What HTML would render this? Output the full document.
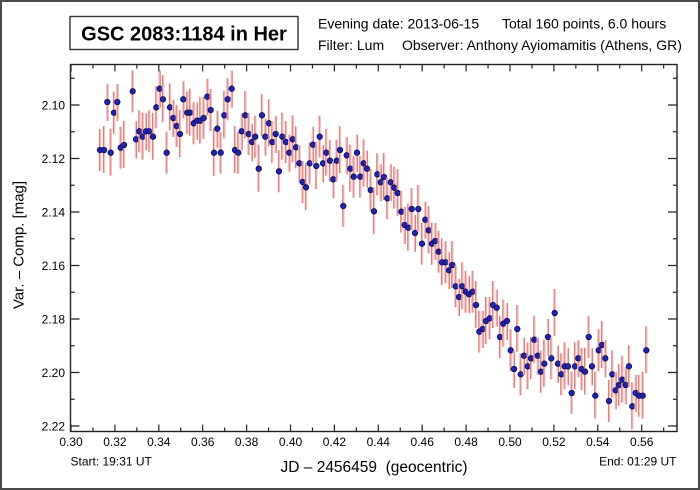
<!DOCTYPE html>
<html><head><meta charset="utf-8"><style>
html,body{margin:0;padding:0;background:#fff;}
svg{display:block;font-family:"Liberation Sans",Arial,sans-serif;}
</style></head><body>
<svg width="700" height="490" viewBox="0 0 700 490" xmlns="http://www.w3.org/2000/svg">
<defs>
<g id="a"><line x1="0" y1="-21" x2="0" y2="21" stroke="#f3bebe" stroke-width="2.4"/><line x1="-0.5" y1="-21" x2="-0.5" y2="21" stroke="#d87676" stroke-width="0.9"/><circle r="2.7" fill="#2424a4" stroke="#0a0a6a" stroke-width="0.9"/></g>
<g id="b"><line x1="0" y1="-18" x2="0" y2="19" stroke="#f3bebe" stroke-width="2.4"/><line x1="0.5" y1="-18" x2="0.5" y2="19" stroke="#d87676" stroke-width="0.9"/><circle r="2.7" fill="#2424a4" stroke="#0a0a6a" stroke-width="0.9"/></g>
<g id="c"><line x1="0" y1="-24" x2="0" y2="23" stroke="#f3bebe" stroke-width="2.4"/><line x1="-0.5" y1="-24" x2="-0.5" y2="23" stroke="#d87676" stroke-width="0.9"/><circle r="2.7" fill="#2424a4" stroke="#0a0a6a" stroke-width="0.9"/></g>
</defs>
<rect x="1" y="1" width="698" height="488" fill="#fff" stroke="#4a4a4a" stroke-width="2"/>

<!-- header -->
<rect x="70" y="16.5" width="228" height="33" fill="#fff" stroke="#333" stroke-width="1.4"/>
<text x="184" y="40.5" font-size="20" font-weight="bold" text-anchor="middle" fill="#000">GSC 2083:1184 in Her</text>
<text x="318" y="28.5" font-size="14" fill="#000">Evening date: 2013-06-15</text>
<text x="502" y="28.5" font-size="14" fill="#000">Total 160 points, 6.0 hours</text>
<text x="318" y="50" font-size="14" fill="#000">Filter: Lum</text>
<text x="402" y="50" font-size="14" fill="#000">Observer: Anthony Ayiomamitis (Athens, GR)</text>

<!-- data -->
<g>
<use href="#a" x="100" y="150"/><use href="#c" x="104" y="150"/><use href="#b" x="107.3" y="102"/><use href="#c" x="110.7" y="152.7"/><use href="#a" x="114" y="112.7"/><use href="#b" x="117.3" y="102"/><use href="#a" x="120.7" y="147.7"/><use href="#c" x="124" y="145"/><use href="#a" x="132.7" y="91.3"/><use href="#b" x="136" y="139.3"/><use href="#a" x="139.3" y="131.3"/><use href="#c" x="142.7" y="136.7"/><use href="#b" x="146" y="131.3"/><use href="#a" x="149.3" y="131.3"/><use href="#c" x="153" y="136.7"/><use href="#a" x="156.3" y="107.3"/><use href="#b" x="159.7" y="88.7"/><use href="#c" x="163" y="99.3"/><use href="#a" x="166.7" y="152.7"/><use href="#c" x="170" y="107.3"/><use href="#b" x="173.3" y="118"/><use href="#a" x="176.7" y="126"/><use href="#c" x="180" y="134"/><use href="#b" x="183.3" y="99.3"/><use href="#a" x="187.3" y="112.7"/>
<use href="#c" x="190" y="112.7"/><use href="#a" x="193.7" y="123.3"/><use href="#b" x="197" y="120.7"/><use href="#c" x="200.3" y="120.7"/><use href="#a" x="203.7" y="118"/><use href="#b" x="207.3" y="96.7"/><use href="#a" x="210.7" y="110"/><use href="#c" x="214" y="152.7"/><use href="#b" x="217.3" y="128.7"/><use href="#a" x="220.7" y="152.7"/><use href="#c" x="224.3" y="115.3"/><use href="#a" x="227.7" y="99.3"/><use href="#b" x="231.7" y="88.7"/><use href="#c" x="235" y="150"/><use href="#a" x="238.3" y="152.7"/><use href="#b" x="241.7" y="131.3"/><use href="#c" x="245.3" y="115.3"/><use href="#a" x="248.7" y="134"/><use href="#b" x="252" y="142"/><use href="#a" x="255.3" y="136.7"/><use href="#c" x="258.7" y="168.7"/><use href="#a" x="262" y="115.3"/><use href="#b" x="265.3" y="136.7"/><use href="#c" x="269" y="123.3"/><use href="#a" x="272.3" y="142"/><use href="#b" x="275.7" y="134"/><use href="#a" x="279" y="171.3"/><use href="#c" x="282.3" y="136.7"/>
<use href="#a" x="286" y="142"/><use href="#b" x="289.3" y="152.7"/><use href="#c" x="292.7" y="139.3"/><use href="#a" x="296" y="147.3"/><use href="#b" x="299.3" y="163.3"/><use href="#a" x="302.7" y="182"/><use href="#c" x="306" y="187.3"/><use href="#a" x="309.7" y="163.3"/><use href="#b" x="313" y="144.7"/><use href="#c" x="316.3" y="166"/><use href="#a" x="319.7" y="136.7"/><use href="#b" x="323" y="163.3"/><use href="#c" x="326.3" y="152.7"/><use href="#a" x="330" y="160.7"/><use href="#b" x="333.3" y="179.3"/><use href="#a" x="336.7" y="160.7"/><use href="#c" x="340" y="150"/><use href="#a" x="343.3" y="206"/><use href="#b" x="346.7" y="155.3"/><use href="#c" x="350.3" y="168.7"/><use href="#a" x="353.7" y="176.7"/><use href="#b" x="357" y="152.7"/><use href="#a" x="360.3" y="176.7"/><use href="#c" x="363.7" y="163.3"/><use href="#b" x="367" y="168.7"/><use href="#a" x="370.7" y="190"/><use href="#c" x="374" y="211.3"/>
<use href="#a" x="377.3" y="174.3"/><use href="#b" x="380.7" y="182.3"/><use href="#c" x="384" y="177"/><use href="#a" x="387.3" y="198.3"/><use href="#b" x="390.7" y="182.3"/><use href="#a" x="394.3" y="187.7"/><use href="#c" x="397.7" y="193"/><use href="#a" x="401.3" y="211.7"/><use href="#b" x="404.7" y="225"/><use href="#c" x="408.3" y="227.7"/><use href="#a" x="411.7" y="209"/><use href="#b" x="415" y="233"/><use href="#c" x="418.3" y="209"/><use href="#a" x="422" y="243.7"/><use href="#b" x="425.3" y="219.7"/><use href="#c" x="428.7" y="230.3"/><use href="#a" x="432" y="243.7"/><use href="#b" x="435.3" y="241"/><use href="#a" x="438.7" y="251.7"/><use href="#c" x="442" y="262.3"/><use href="#a" x="445.7" y="262.3"/><use href="#b" x="449" y="270.3"/><use href="#c" x="452.3" y="265"/><use href="#a" x="455.7" y="286.3"/><use href="#b" x="459" y="297"/><use href="#c" x="462.3" y="286.3"/><use href="#a" x="465.7" y="291.7"/><use href="#b" x="469" y="294.3"/><use href="#a" x="472.7" y="291.7"/><use href="#c" x="476" y="305"/><use href="#a" x="479.3" y="331.7"/><use href="#b" x="482.7" y="329"/><use href="#c" x="486" y="321"/><use href="#a" x="489.7" y="318.3"/><use href="#c" x="493" y="305"/><use href="#b" x="496.7" y="307.7"/><use href="#a" x="500" y="337"/><use href="#c" x="503.3" y="323.7"/><use href="#b" x="507" y="321"/><use href="#a" x="510.7" y="350.3"/><use href="#b" x="514" y="369"/><use href="#c" x="517.3" y="329"/><use href="#a" x="520.7" y="374.3"/><use href="#b" x="524" y="355.7"/><use href="#c" x="527.7" y="366.3"/><use href="#a" x="531" y="358.3"/><use href="#c" x="534.3" y="339.7"/><use href="#b" x="537.7" y="355.7"/><use href="#a" x="541" y="371.7"/><use href="#c" x="544.3" y="363.7"/><use href="#b" x="548" y="337"/><use href="#a" x="551.3" y="358.3"/><use href="#c" x="554.7" y="313"/><use href="#b" x="558" y="363.7"/><use href="#a" x="561.3" y="374.3"/><use href="#c" x="564.7" y="366.3"/><use href="#b" x="568" y="366.3"/><use href="#a" x="571.7" y="393"/><use href="#c" x="575" y="366.3"/><use href="#b" x="578.3" y="358.3"/><use href="#a" x="581.7" y="369"/><use href="#c" x="585" y="371.7"/><use href="#a" x="588.7" y="337"/><use href="#b" x="592" y="366.3"/><use href="#c" x="595.3" y="395.7"/><use href="#a" x="598.7" y="350.3"/><use href="#c" x="602" y="345"/><use href="#b" x="605.3" y="358.3"/><use href="#a" x="609" y="401"/><use href="#c" x="612.3" y="374.3"/><use href="#b" x="615.7" y="390.3"/><use href="#a" x="619" y="385"/><use href="#c" x="622.3" y="379.7"/><use href="#b" x="625.7" y="385"/><use href="#a" x="629" y="366.3"/><use href="#c" x="632.3" y="406.3"/><use href="#b" x="635.7" y="393"/><use href="#a" x="639" y="395.7"/><use href="#c" x="642.7" y="395.7"/><use href="#c" x="646.3" y="350.3"/>
</g>

<!-- frame -->
<rect x="70.5" y="64.5" width="606.5" height="367" fill="none" stroke="#222" stroke-width="1.4"/>

<!-- ticks -->
<path fill="none" stroke="#222" stroke-width="1.2" d="
M71 431.5v-7M92.95 431.5v-4M114.9 431.5v-7M136.85 431.5v-4M158.8 431.5v-7M180.75 431.5v-4M202.7 431.5v-7M224.65 431.5v-4M246.6 431.5v-7M268.55 431.5v-4M290.5 431.5v-7M312.45 431.5v-4M334.4 431.5v-7M356.35 431.5v-4M378.3 431.5v-7M400.25 431.5v-4M422.2 431.5v-7M444.15 431.5v-4M466.1 431.5v-7M488.05 431.5v-4M510 431.5v-7M531.95 431.5v-4M553.9 431.5v-7M575.85 431.5v-4M597.8 431.5v-7M619.75 431.5v-4M641.7 431.5v-7M663.65 431.5v-4
M71 64.5v7M92.95 64.5v4M114.9 64.5v7M136.85 64.5v4M158.8 64.5v7M180.75 64.5v4M202.7 64.5v7M224.65 64.5v4M246.6 64.5v7M268.55 64.5v4M290.5 64.5v7M312.45 64.5v4M334.4 64.5v7M356.35 64.5v4M378.3 64.5v7M400.25 64.5v4M422.2 64.5v7M444.15 64.5v4M466.1 64.5v7M488.05 64.5v4M510 64.5v7M531.95 64.5v4M553.9 64.5v7M575.85 64.5v4M597.8 64.5v7M619.75 64.5v4M641.7 64.5v7M663.65 64.5v4
M70.5 78.25h4M70.5 105h9M70.5 131.75h4M70.5 158.5h9M70.5 185.25h4M70.5 212h9M70.5 238.75h4M70.5 265.5h9M70.5 292.25h4M70.5 319h9M70.5 345.75h4M70.5 372.5h9M70.5 399.25h4M70.5 426h9
M677 78.25h-4M677 105h-9M677 131.75h-4M677 158.5h-9M677 185.25h-4M677 212h-9M677 238.75h-4M677 265.5h-9M677 292.25h-4M677 319h-9M677 345.75h-4M677 372.5h-9M677 399.25h-4M677 426h-9"/>

<!-- y labels -->
<g font-size="12" text-anchor="end" fill="#000">
<text x="65" y="109.3">2.10</text>
<text x="65" y="162.8">2.12</text>
<text x="65" y="216.3">2.14</text>
<text x="65" y="269.8">2.16</text>
<text x="65" y="323.3">2.18</text>
<text x="65" y="376.8">2.20</text>
<text x="65" y="430.3">2.22</text>
</g>
<!-- x labels -->
<g font-size="12" text-anchor="middle" fill="#000">
<text x="71" y="446">0.30</text>
<text x="114.9" y="446">0.32</text>
<text x="158.8" y="446">0.34</text>
<text x="202.7" y="446">0.36</text>
<text x="246.6" y="446">0.38</text>
<text x="290.5" y="446">0.40</text>
<text x="334.4" y="446">0.42</text>
<text x="378.3" y="446">0.44</text>
<text x="422.2" y="446">0.46</text>
<text x="466.1" y="446">0.48</text>
<text x="510" y="446">0.50</text>
<text x="553.9" y="446">0.52</text>
<text x="597.8" y="446">0.54</text>
<text x="641.7" y="446">0.56</text>
</g>

<text x="70.5" y="465.5" font-size="12" fill="#000">Start: 19:31 UT</text>
<text x="676.5" y="465.5" font-size="12" text-anchor="end" fill="#000">End: 01:29 UT</text>
<text x="374" y="472" font-size="15.5" text-anchor="middle" fill="#000" xml:space="preserve">JD – 2456459  (geocentric)</text>
<text transform="translate(23.5,245) rotate(-90)" font-size="15" text-anchor="middle" fill="#000">Var. – Comp. [mag]</text>
</svg>
</body></html>
